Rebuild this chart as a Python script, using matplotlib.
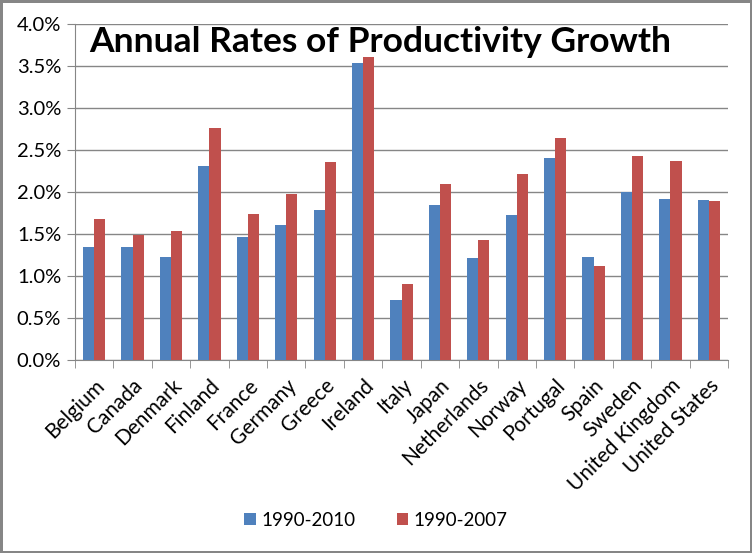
import matplotlib.pyplot as plt
import numpy as np
from matplotlib.ticker import FuncFormatter

countries = ["Belgium", "Canada", "Denmark", "Finland", "France", "Germany",
             "Greece", "Ireland", "Italy", "Japan", "Netherlands", "Norway",
             "Portugal", "Spain", "Sweden", "United Kingdom", "United States"]
rate_1990_2010 = [1.35, 1.35, 1.23, 2.31, 1.47, 1.61, 1.78, 3.53, 0.72, 1.85,
                  1.22, 1.73, 2.41, 1.23, 2.00, 1.92, 1.91]
rate_1990_2007 = [1.68, 1.49, 1.54, 2.76, 1.74, 1.98, 2.36, 3.61, 0.91, 2.09,
                  1.43, 2.21, 2.64, 1.12, 2.43, 2.37, 1.89]
series_names = ["1990-2010", "1990-2007"]

plt.rcParams["font.family"] = ["Lato", "DejaVu Sans"]

fig = plt.figure(figsize=(7.52, 5.53), dpi=100, linewidth=2.5, edgecolor="#868686")
ax = fig.add_axes([75 / 752, 1 - 360 / 553, 653 / 752, 336 / 553])

x = np.arange(len(countries))
w = 0.29
ax.bar(x - w / 2, rate_1990_2010, w, color="#4F81BD", label=series_names[0], zorder=3)
ax.bar(x + w / 2, rate_1990_2007, w, color="#C0504D", label=series_names[1], zorder=3)

ax.set_ylim(0, 4.0)
ax.set_xlim(-0.5, len(countries) - 0.5)
ax.set_yticks(np.arange(0, 4.01, 0.5))
ax.yaxis.set_major_formatter(FuncFormatter(lambda v, p: f"{v:.1f}%"))
ax.grid(axis="y", color="#868686", linewidth=1, zorder=0)

ax.set_xticks(x)
ax.set_xticklabels(countries, rotation=45, ha="right", rotation_mode="anchor", fontsize=15)
ax.tick_params(axis="x", which="major", length=0, pad=11)
ax.set_xticks(np.arange(-0.5, len(countries), 1), minor=True)
ax.tick_params(axis="x", which="minor", length=6, color="#868686", direction="out")
ax.tick_params(axis="y", length=6, color="#868686", labelsize=14.5, pad=4)

for s in ["top", "right"]:
    ax.spines[s].set_visible(False)
for s in ["left", "bottom"]:
    ax.spines[s].set_color("#868686")

ax.text(0.022, 0.945, "Annual Rates of Productivity Growth", transform=ax.transAxes,
        fontsize=25.5, fontweight="bold", va="center", ha="left", zorder=5)

fig.legend(loc="center", bbox_to_anchor=(0.5, 1 - 520 / 553), ncol=2, frameon=False,
           fontsize=13.5, handlelength=0.6, handleheight=0.6, columnspacing=2.2,
           handletextpad=0.3)

plt.savefig("out.png", dpi=100)
plt.close()
